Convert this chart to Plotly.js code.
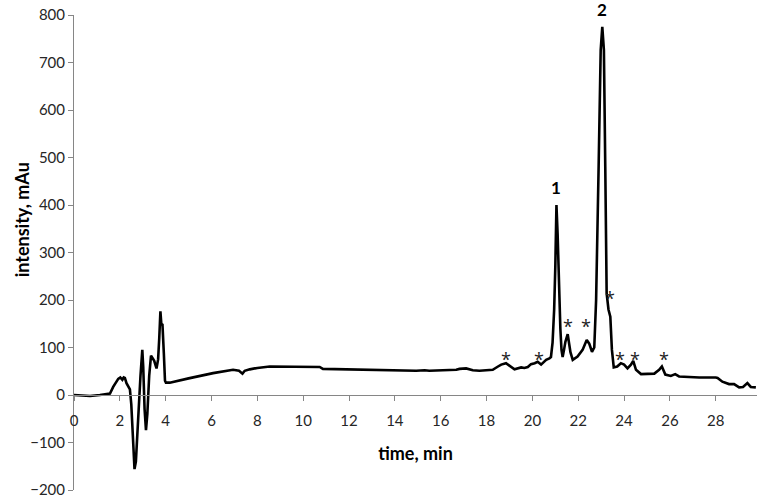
<!DOCTYPE html>
<html>
<head>
<meta charset="utf-8">
<script src="https://cdn.plot.ly/plotly-3.0.1.min.js"></script>
<style>
  html, body { margin: 0; padding: 0; background: #fff; }
  #chart { width: 761px; height: 499px; }
</style>
</head>
<body>
<div id="chart"></div>
<script>
// chromatogram
const time = [
  0, 0.3, 0.7, 1.13, 1.57, 1.71, 1.85, 1.93, 2.02, 2.11, 2.17, 2.22, 2.29, 2.37, 2.44,
  2.5, 2.58, 2.64, 2.7, 2.8, 2.9, 2.98, 3.02, 3.08, 3.14, 3.2, 3.28, 3.36, 3.43, 3.5,
  3.6, 3.67, 3.72, 3.77, 3.81, 3.86, 3.92, 3.97, 4.01, 4.18, 5.0, 6.07, 6.94, 7.2, 7.35,
  7.45, 7.67, 8.0, 8.54, 10.72, 10.86, 11.73, 13.19, 14.93, 15.3, 15.5, 16.68, 16.82, 17.11, 17.4,
  17.69, 18.27, 18.5, 18.64, 18.85, 19.07, 19.22, 19.51, 19.65, 19.8, 19.94, 20.1, 20.23, 20.38, 20.5,
  20.6, 20.74, 20.81, 20.88, 20.95, 21.0, 21.05, 21.1, 21.15, 21.22, 21.27, 21.32, 21.38, 21.44, 21.54,
  21.6, 21.66, 21.76, 21.97, 22.19, 22.3, 22.37, 22.48, 22.6, 22.7, 22.78, 22.89, 22.98, 23.05, 23.12,
  23.18, 23.24, 23.32, 23.4, 23.47, 23.55, 23.7, 23.86, 24.0, 24.15, 24.3, 24.4, 24.52, 24.74, 25.32,
  25.53, 25.65, 25.8, 26.04, 26.23, 26.4, 27.28, 28.0, 28.08, 28.29, 28.58, 28.8, 29.02, 29.19, 29.38,
  29.53, 29.75
];
const intensity = [
  0, -1, -2, 0, 3, 17, 28, 34, 37, 32, 37, 36, 25, 18, 12,
  -20, -110, -156, -140, -40, 40, 95, 60, -30, -74, -40, 40, 83, 78, 72,
  56, 75, 120, 176, 150, 148, 88, 30, 26, 26, 35, 46, 53, 51, 45,
  51, 54, 57, 60, 59, 55, 54, 53, 51, 52, 51, 53, 55, 56, 52,
  51, 53, 60, 64, 67, 59, 54, 58, 57, 59, 65, 67, 70, 64, 70,
  74, 77, 80, 110, 180, 270, 400, 340, 250, 140, 95, 80, 95, 112, 128,
  108, 90, 74, 81, 95, 108, 116, 108, 91, 100, 200, 481, 726, 775, 726,
  481, 214, 180, 165, 95, 58, 60, 67, 64, 56, 64, 72, 53, 44, 45,
  53, 60, 43, 40, 44, 39, 37, 37, 36, 28, 23, 23, 16, 17, 25,
  17, 16
];

// numbered peaks
const peakNames = ['1', '2'];
const peakTimes = [21.05, 23.05];
const peakTops = [402, 776];

// minor peaks marked with *
const starTimes = [18.85, 20.28, 21.54, 22.34, 23.4, 23.82, 24.46, 25.74];
const starLevels = [86, 86, 156, 156, 215, 86, 86, 86];

const tickFont = { family: 'Lato, "Open Sans", sans-serif', size: 15, color: '#262626' };
const titleFont = { family: 'Lato, sans-serif', size: 18, color: '#000' };

const annotations = [];
peakNames.forEach((name, i) => {
  annotations.push({
    x: peakTimes[i], y: peakTops[i], xref: 'x', yref: 'y',
    text: '<b>' + name + '</b>', showarrow: false,
    yanchor: 'bottom', yshift: 4,
    font: { family: 'Lato, sans-serif', size: 17, color: '#000' }
  });
});
starTimes.forEach((t, i) => {
  annotations.push({
    x: t, y: starLevels[i], xref: 'x', yref: 'y',
    text: '*', showarrow: false,
    yshift: -5,
    font: { family: '"Open Sans", sans-serif', size: 18, color: '#222' }
  });
});
annotations.push({
  x: -0.076, y: 0.568, xref: 'paper', yref: 'paper',
  xanchor: 'center', yanchor: 'middle',
  text: '<b>intensity, mAu</b>', showarrow: false, textangle: -90,
  font: titleFont
});

const data = [{
  x: time,
  y: intensity,
  type: 'scatter',
  mode: 'lines',
  line: { color: '#000', width: 2.6 },
  hoverinfo: 'skip'
}];

const layout = {
  width: 761,
  height: 499,
  margin: { l: 74, r: 4, t: 15, b: 9 },
  paper_bgcolor: '#fff',
  plot_bgcolor: '#fff',
  showlegend: false,
  xaxis: {
    range: [0, 29.8],
    anchor: 'free',
    position: 0.2,
    dtick: 2,
    tick0: 0,
    ticks: 'outside',
    ticklen: 5,
    tickcolor: '#868686',
    ticklabelstandoff: 7,
    showline: true,
    linecolor: '#868686',
    linewidth: 1,
    showgrid: false,
    zeroline: false,
    tickfont: tickFont,
    title: {
      text: '<b>time, min</b>',
      font: titleFont,
      standoff: 19
    }
  },
  yaxis: {
    range: [-200, 800],
    dtick: 100,
    ticks: 'outside',
    ticklen: 5,
    tickcolor: '#868686',
    showline: true,
    linecolor: '#868686',
    linewidth: 1,
    showgrid: false,
    zeroline: false,
    tickfont: tickFont
  },
  annotations: annotations
};

Plotly.newPlot('chart', data, layout, { displayModeBar: false, staticPlot: true });
</script>
</body>
</html>
